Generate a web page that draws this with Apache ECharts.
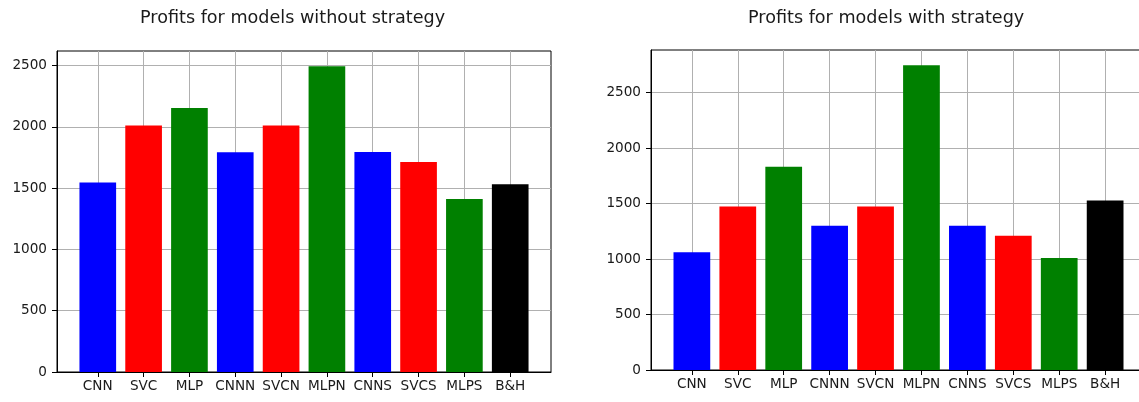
<!DOCTYPE html>
<html>
<head>
<meta charset="utf-8">
<script src="https://cdn.jsdelivr.net/npm/echarts@6/dist/echarts.min.js"></script>
<style>
  html, body { margin: 0; padding: 0; background: #fff; }
  #chart { width: 1139px; height: 402px; }
</style>
</head>
<body>
<div id="chart"></div>
<script>
// Model names along the x axis of both panels
const categories = ['CNN', 'SVC', 'MLP', 'CNNN', 'SVCN', 'MLPN', 'CNNS', 'SVCS', 'MLPS', 'B&H'];
// Profit per model, plain predictions
const profitsWithout = [1546, 2011, 2155, 1794, 2011, 2495, 1796, 1714, 1412, 1532];
// Profit per model, with the trading strategy applied
const profitsWith = [1060, 1474, 1831, 1300, 1474, 2746, 1300, 1210, 1008, 1528];
// One colour per bar
const barColors = ['#0000ff', '#ff0000', '#008000', '#0000ff', '#ff0000', '#008000', '#0000ff', '#ff0000', '#008000', '#000000'];
// Y tick values for each panel
const yTicksWithout = [0, 500, 1000, 1500, 2000, 2500];
const yTicksWith = [0, 500, 1000, 1500, 2000, 2500];
// Panel titles
const titles = ['Profits for models without strategy', 'Profits for models with strategy'];

const FONT = 'DejaVu Sans';
const TEXT = '#1a1a1a';
const GRIDLINE = '#b0b0b0';
const catIdx = categories.map((_, i) => i);

function xAxis(gridIndex) {
  return {
    type: 'value', gridIndex: gridIndex,
    min: -0.89, max: 9.89,
    axisLine: { show: true, onZero: false, lineStyle: { color: '#000', width: 1 } },
    axisTick: { show: true, customValues: catIdx, length: 5, lineStyle: { color: '#000', width: 1 } },
    axisLabel: {
      customValues: catIdx, margin: 7,
      formatter: v => categories[Math.round(v)],
      color: TEXT, fontFamily: FONT, fontSize: 13.6
    },
    splitLine: { show: true, lineStyle: { color: GRIDLINE, width: 1 } }
  };
}

function yAxis(gridIndex, max, ticks) {
  return {
    type: 'value', gridIndex: gridIndex,
    min: 0, max: max, interval: 500,
    axisLine: { show: true, onZero: false, lineStyle: { color: '#000', width: 1 } },
    axisTick: { show: true, customValues: ticks, length: 5, lineStyle: { color: '#000', width: 1 } },
    axisLabel: {
      customValues: ticks, margin: 10,
      formatter: v => String(v),
      color: TEXT, fontFamily: FONT, fontSize: 13.6
    },
    splitLine: { show: true, lineStyle: { color: GRIDLINE, width: 1 } }
  };
}

function barData(values) {
  return values.map((v, i) => ({ value: [i, v], itemStyle: { color: barColors[i] } }));
}

const chart = echarts.init(document.getElementById('chart'), null, { renderer: 'canvas' });
chart.setOption({
  backgroundColor: '#ffffff',
  animation: false,
  title: [
    { text: titles[0], left: 140, top: 9, padding: 0,
      textStyle: { fontFamily: FONT, fontSize: 17.6, fontWeight: 'normal', color: TEXT } },
    { text: titles[1], left: 748, top: 9, padding: 0,
      textStyle: { fontFamily: FONT, fontSize: 17.6, fontWeight: 'normal', color: TEXT } }
  ],
  grid: [
    { left: 57, top: 51, width: 494, height: 321, outerBoundsMode: 'none', containLabel: false,
      show: true, borderColor: '#000', borderWidth: 1, backgroundColor: 'transparent' },
    { left: 651, top: 50, width: 495, height: 320, outerBoundsMode: 'none', containLabel: false,
      show: true, borderColor: '#000', borderWidth: 1, backgroundColor: 'transparent' }
  ],
  xAxis: [xAxis(0), xAxis(1)],
  yAxis: [yAxis(0, 2620, yTicksWithout), yAxis(1, 2883, yTicksWith)],
  series: [
    { type: 'bar', xAxisIndex: 0, yAxisIndex: 0, barWidth: '80%', data: barData(profitsWithout) },
    { type: 'bar', xAxisIndex: 1, yAxisIndex: 1, barWidth: '80%', data: barData(profitsWith) }
  ]
});
</script>
</body>
</html>
